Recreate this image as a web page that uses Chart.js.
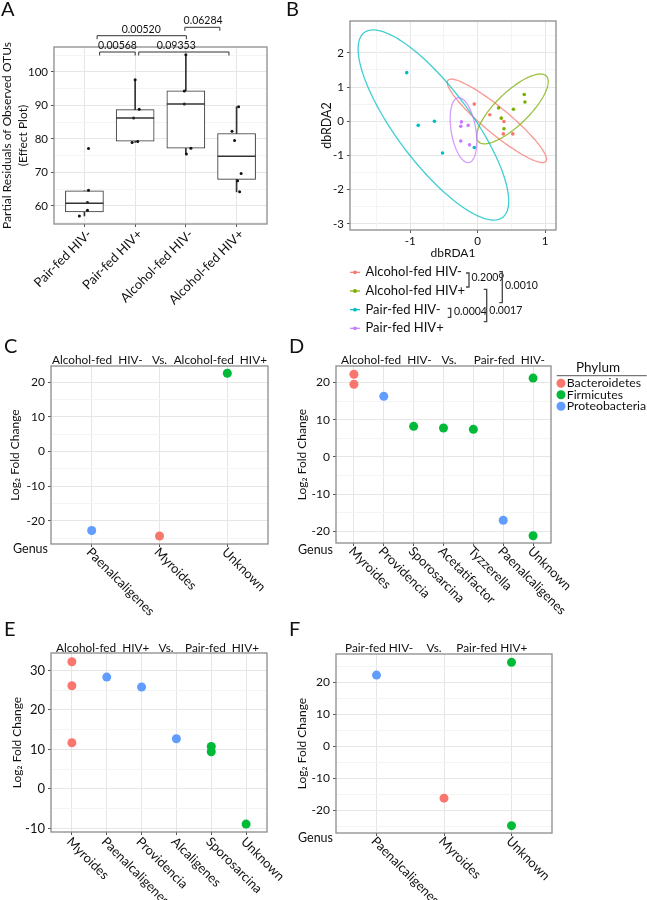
<!DOCTYPE html>
<html lang="en">
<head>
<meta charset="UTF-8">
<title>Microbiome panels</title>
<script src="https://cdn.jsdelivr.net/npm/chart.js"></script>
<style>
  body { margin: 0; background: #fff; }
  #wrap { position: relative; width: 647px; height: 900px; }
  #wrap canvas { position: absolute; left: 0; top: 0; }
</style>
</head>
<body>
<div id="wrap">
  <canvas id="chartA" width="647" height="900"></canvas>
  <canvas id="chartB" width="647" height="900"></canvas>
  <canvas id="chartC" width="647" height="900"></canvas>
  <canvas id="chartD" width="647" height="900"></canvas>
  <canvas id="chartE" width="647" height="900"></canvas>
  <canvas id="chartF" width="647" height="900"></canvas>
</div>
<script>
// ---- A: partial residuals of observed OTUs (box plot) ----
const aGroups = ['Pair-fed HIV-', 'Pair-fed HIV+', 'Alcohol-fed HIV-', 'Alcohol-fed HIV+'];
const aQ1 = [58.2, 79.3, 77.2, 67.9];
const aMedian = [60.8, 86.2, 90.4, 74.8];
const aQ3 = [64.5, 88.7, 94.3, 81.6];
const aLow = [57.0, 78.9, 75.5, 64.2];
const aHigh = [64.5, 97.6, 105.1, 89.6];
const aPtGroup = [0, 0, 0, 0, 0, 1, 1, 1, 1, 1, 2, 2, 2, 2, 2, 3, 3, 3, 3, 3, 3];
const aPtValue = [77.1, 64.7, 61.0, 58.7, 57.0, 97.6, 88.8, 86.2, 78.9, 79.2,
                  105.1, 94.3, 90.4, 77.2, 75.5, 89.6, 82.3, 79.5, 69.7, 67.5, 64.2];
const aPtJitter = [0.08, 0.08, 0.06, 0.06, -0.1, 0, 0.08, -0.03, -0.06, 0.05,
                   0, -0.03, -0.03, 0.1, 0.01, 0.04, -0.09, -0.04, 0.09, 0.02, 0.06];
const aYTicks = [60, 70, 80, 90, 100];
const aYMinor = [55, 65, 75, 85, 95, 105];
const aPvalues = ['0.00568', '0.00520', '0.09353', '0.06284'];

// ---- B: dbRDA ordination ----
const bGroups = ['Alcohol-fed HIV-', 'Alcohol-fed HIV+', 'Pair-fed HIV-', 'Pair-fed HIV+'];
const bPtGroup = [0, 0, 0, 0, 0, 1, 1, 1, 1, 1, 1, 2, 2, 2, 2, 2, 3, 3, 3, 3, 3];
const bPtX = [-0.05, 0.18, 0.39, 0.38, 0.52, 0.31, 0.35, 0.39, 0.53, 0.69, 0.70,
              -1.05, -0.88, -0.64, -0.52, -0.05, -0.24, -0.25, -0.14, -0.25, -0.12];
const bPtY = [0.50, 0.19, -0.01, -0.37, -0.37, 0.39, 0.09, -0.22, 0.35, 0.78, 0.56,
              1.42, -0.12, 0.0, -0.93, -0.77, -0.02, -0.15, -0.12, -0.58, -0.69];
// ellipse per group: centre, half extents, correlation
const bEllCx = [0.285, 0.515, -0.655, -0.21];
const bEllCy = [0.01, 0.36, -0.11, -0.26];
const bEllSx = [0.735, 0.53, 1.115, 0.197];
const bEllSy = [1.22, 1.02, 2.78, 0.95];
const bEllR = [-0.92, 0.78, -0.80, -0.35];
const bXTicks = [-1, 0, 1];
const bXMinor = [-1.5, -0.5, 0.5];
const bYTicks = [-3, -2, -1, 0, 1, 2];
const bYMinor = [-2.5, -1.5, -0.5, 0.5, 1.5, 2.5];
const bPvalues = ['0.2009', '0.0010', '0.0004', '0.0017'];

// ---- C-F: log2 fold change by genus ----
const phyla = ['Bacteroidetes', 'Firmicutes', 'Proteobacteria'];

const cGenus = ['Paenalcaligenes', 'Myroides', 'Unknown'];
const cPtGenus = ['Paenalcaligenes', 'Myroides', 'Unknown'];
const cLfc = [-22.8, -24.4, 22.6];
const cPhylum = ['Proteobacteria', 'Bacteroidetes', 'Firmicutes'];

const dGenus = ['Myroides', 'Providencia', 'Sporosarcina', 'Acetatifactor', 'Tyzzerella', 'Paenalcaligenes', 'Unknown'];
const dPtGenus = ['Myroides', 'Myroides', 'Providencia', 'Sporosarcina', 'Acetatifactor', 'Tyzzerella', 'Paenalcaligenes', 'Unknown', 'Unknown'];
const dLfc = [22.2, 19.5, 16.25, 8.2, 7.75, 7.4, -17.0, 21.15, -21.15];
const dPhylum = ['Bacteroidetes', 'Bacteroidetes', 'Proteobacteria', 'Firmicutes', 'Firmicutes', 'Firmicutes', 'Proteobacteria', 'Firmicutes', 'Firmicutes'];

const eGenus = ['Myroides', 'Paenalcaligenes', 'Providencia', 'Alcaligenes', 'Sporosarcina', 'Unknown'];
const ePtGenus = ['Myroides', 'Myroides', 'Myroides', 'Paenalcaligenes', 'Providencia', 'Alcaligenes', 'Sporosarcina', 'Sporosarcina', 'Unknown'];
const eLfc = [32.2, 26.1, 11.7, 28.3, 25.8, 12.7, 10.75, 9.4, -8.9];
const ePhylum = ['Bacteroidetes', 'Bacteroidetes', 'Bacteroidetes', 'Proteobacteria', 'Proteobacteria', 'Proteobacteria', 'Firmicutes', 'Firmicutes', 'Firmicutes'];

const fGenus = ['Paenalcaligenes', 'Myroides', 'Unknown'];
const fPtGenus = ['Paenalcaligenes', 'Myroides', 'Unknown', 'Unknown'];
const fLfc = [22.3, -16.2, 26.3, -24.8];
const fPhylum = ['Proteobacteria', 'Bacteroidetes', 'Firmicutes', 'Firmicutes'];

const lfcTicks20 = [-20, -10, 0, 10, 20];
const eYTicks = [-10, 0, 10, 20, 30];

// ---- styling ----
const FONT = 'Lato, "Open Sans", sans-serif';
const INK = '#111';
const GRID = '#e6e6e6';
const GRID_MINOR = '#f4f4f4';
const FRAME = '#8c8c8c';
const PHYLUM_COLORS = { Bacteroidetes: '#F8766D', Firmicutes: '#00BA38', Proteobacteria: '#619CFF' };
const GROUP_COLORS = ['#F8766D', '#7CAE00', '#00BFC4', '#C77CFF'];

function text(ctx, str, x, y, size, align) {
  ctx.save();
  ctx.font = size + 'px ' + FONT;
  ctx.fillStyle = INK;
  ctx.textAlign = align || 'left';
  ctx.textBaseline = 'middle';
  ctx.fillText(str, x, y);
  ctx.restore();
}

function frame(chart) {
  const a = chart.chartArea, ctx = chart.ctx;
  ctx.save();
  ctx.strokeStyle = FRAME;
  ctx.lineWidth = 1.3;
  ctx.strokeRect(a.left, a.top, a.right - a.left, a.bottom - a.top);
  ctx.restore();
}

function rotatedLabels(chart, labels, angle, dx, dy, size) {
  const ctx = chart.ctx, xs = chart.scales.x, bottom = chart.chartArea.bottom;
  ctx.save();
  ctx.font = size + 'px ' + FONT;
  ctx.fillStyle = INK;
  ctx.textBaseline = 'middle';
  ctx.textAlign = angle < 0 ? 'right' : 'left';
  labels.forEach((lab, i) => {
    ctx.save();
    ctx.translate(xs.getPixelForValue(i) + dx, bottom + dy);
    ctx.rotate(angle);
    ctx.fillText(lab, 0, 0);
    ctx.restore();
  });
  ctx.restore();
}

function panel(canvasId, rect, o) {
  const tSize = o.yTitleSize || 12, tLH = o.yTitleLH || 1.2;
  const half = tSize * tLH / 2;
  const padLeft = Math.max(0, o.yTitleX - half - 1);
  const titlePad = o.yTitleX - padLeft - half;
  const yWidth = rect.l - padLeft;
  const xHeight = o.xHeight || 8;
  const tickFont = { family: FONT, size: o.tickSize || 11.5 };
  const scales = {
    x: {
      type: 'linear', min: o.xMin, max: o.xMax, offset: false,
      afterBuildTicks: s => { s.ticks = o.xTicks.map(v => ({ value: v })); },
      afterFit: s => { s.height = xHeight; },
      grid: { color: GRID, tickColor: '#555', tickLength: 3, offset: false },
      border: { display: false },
      ticks: { display: !!o.xTickLabels, font: tickFont, color: INK, padding: 1, autoSkip: false, maxRotation: 0 },
      title: { display: !!o.xTitle, text: o.xTitle || '', color: INK,
               font: { family: FONT, size: 12 }, padding: { top: 0, bottom: 1 } }
    },
    y: {
      type: 'linear', min: o.yMin, max: o.yMax,
      afterBuildTicks: s => { s.ticks = o.yTicks.map(v => ({ value: v })); },
      afterFit: s => { s.width = yWidth; },
      grid: { color: GRID, tickColor: '#555', tickLength: 3 },
      border: { display: false },
      ticks: { font: tickFont, color: INK, padding: 3, autoSkip: false },
      title: { display: true, text: o.yTitle, color: INK,
               font: { family: FONT, size: tSize, lineHeight: tLH }, padding: { top: titlePad, bottom: 0 } }
    }
  };
  if (o.yMinor) {
    scales.yMinor = {
      axis: 'y', type: 'linear', position: 'left', min: o.yMin, max: o.yMax,
      afterBuildTicks: s => { s.ticks = o.yMinor.map(v => ({ value: v })); },
      afterFit: s => { s.width = 0; },
      grid: { color: GRID_MINOR, drawTicks: false }, border: { display: false },
      ticks: { display: false }
    };
  }
  if (o.xMinor) {
    scales.xMinor = {
      axis: 'x', type: 'linear', position: 'bottom', min: o.xMin, max: o.xMax,
      afterBuildTicks: s => { s.ticks = o.xMinor.map(v => ({ value: v })); },
      afterFit: s => { s.height = 0; },
      grid: { color: GRID_MINOR, drawTicks: false }, border: { display: false },
      ticks: { display: false }
    };
  }
  return new Chart(document.getElementById(canvasId), {
    type: 'scatter',
    data: { datasets: o.datasets },
    options: {
      responsive: false, animation: false, devicePixelRatio: 1,
      layout: { padding: { left: padLeft, top: rect.t, right: 647 - rect.r, bottom: 900 - rect.b - xHeight } },
      scales: scales,
      plugins: { legend: { display: false }, tooltip: { enabled: false } }
    },
    plugins: [{
      id: 'decor',
      beforeDatasetsDraw: chart => { if (o.under) o.under(chart); },
      afterDatasetsDraw: chart => { frame(chart); if (o.draw) o.draw(chart); }
    }]
  });
}

// ---- Panel A ----
panel('chartA', { l: 54, t: 47, r: 267, b: 224 }, {
  xMin: -0.6, xMax: 3.6, xTicks: [0, 1, 2, 3],
  yMin: 54.6, yMax: 107.4, yTicks: aYTicks, yMinor: aYMinor,
  yTitle: ['Partial Residuals of Observed OTUs', '(Effect Plot)'], yTitleX: 7, yTitleSize: 12, yTitleLH: 1.34,
  datasets: [
    { type: 'bar', data: aGroups.map((g, i) => ({ x: i, y: [aQ1[i], aQ3[i]] })),
      backgroundColor: '#ffffff', borderColor: '#333', borderWidth: 1, borderSkipped: false,
      barThickness: 38, grouped: false, order: 3 },
    { type: 'bar', data: aGroups.map((g, i) => ({ x: i, y: [aQ3[i], aHigh[i]] })),
      backgroundColor: '#333', borderWidth: 0, barThickness: 1, grouped: false, order: 4 },
    { type: 'bar', data: aGroups.map((g, i) => ({ x: i, y: [aLow[i], aQ1[i]] })),
      backgroundColor: '#333', borderWidth: 0, barThickness: 1, grouped: false, order: 4 },
    { type: 'scatter', data: aPtValue.map((v, k) => ({ x: aPtGroup[k] + aPtJitter[k], y: v })),
      pointRadius: 1.5, backgroundColor: '#111', borderWidth: 0, order: 1 }
  ],
  draw: chart => {
    const ctx = chart.ctx, xs = chart.scales.x, ys = chart.scales.y;
    const boxes = chart.getDatasetMeta(0).data;
    ctx.save();
    ctx.strokeStyle = '#333';
    ctx.lineWidth = 1.4;
    aMedian.forEach((m, i) => {
      const cx = xs.getPixelForValue(i), w = boxes[i].width / 2, y = ys.getPixelForValue(m);
      ctx.beginPath(); ctx.moveTo(cx - w, y); ctx.lineTo(cx + w, y); ctx.stroke();
    });
    // significance brackets: [from, to, line y, label centre x, label y]
    const spans = [[0.3, 1.0, 52, 0.65, 45.5], [0.25, 2.01, 35.7, 1.12, 30],
                   [1.07, 2.85, 52, 1.81, 45.5], [1.98, 2.67, 27.3, 2.34, 20.5]];
    ctx.lineWidth = 1;
    spans.forEach((s, k) => {
      const x1 = xs.getPixelForValue(s[0]), x2 = xs.getPixelForValue(s[1]);
      ctx.beginPath();
      ctx.moveTo(x1, s[2] + 3.5); ctx.lineTo(x1, s[2]); ctx.lineTo(x2, s[2]); ctx.lineTo(x2, s[2] + 3.5);
      ctx.stroke();
      text(ctx, aPvalues[k], xs.getPixelForValue(s[3]), s[4], 10.5, 'center');
    });
    ctx.restore();
    rotatedLabels(chart, aGroups, -Math.PI / 4, 5, 8, 13);
    text(ctx, 'A', 1, 10, 20);
  }
});

// ---- Panel B ----
panel('chartB', { l: 350, t: 21, r: 556, b: 230 }, {
  xMin: -1.89, xMax: 1.16, xTicks: bXTicks, xMinor: bXMinor, xTickLabels: true, xTitle: 'dbRDA1', xHeight: 31,
  yMin: -3.18, yMax: 2.93, yTicks: bYTicks, yMinor: bYMinor,
  yTitle: 'dbRDA2', yTitleX: 327, yTitleSize: 12.5,
  datasets: bGroups.map((g, gi) => ({
    label: g,
    data: bPtX.map((x, k) => ({ x: x, y: bPtY[k], g: bPtGroup[k] })).filter(d => d.g === gi),
    pointRadius: 1.8, backgroundColor: GROUP_COLORS[gi], borderWidth: 0
  })),
  under: chart => {
    const ctx = chart.ctx, xs = chart.scales.x, ys = chart.scales.y;
    ctx.save();
    ctx.lineWidth = 1.3;
    bGroups.forEach((g, gi) => {
      const k = Math.sqrt(1 - bEllR[gi] * bEllR[gi]);
      ctx.strokeStyle = GROUP_COLORS[gi];
      ctx.globalAlpha = 0.75;
      ctx.beginPath();
      for (let s = 0; s <= 120; s++) {
        const t = s / 120 * Math.PI * 2;
        const px = xs.getPixelForValue(bEllCx[gi] + bEllSx[gi] * Math.cos(t));
        const py = ys.getPixelForValue(bEllCy[gi] + bEllSy[gi] * (bEllR[gi] * Math.cos(t) + k * Math.sin(t)));
        if (s === 0) ctx.moveTo(px, py); else ctx.lineTo(px, py);
      }
      ctx.stroke();
    });
    ctx.restore();
  },
  draw: chart => {
    const ctx = chart.ctx;
    text(ctx, 'B', 286, 10, 20);
    const rows = [272.3, 291, 309.7, 328.3];
    bGroups.forEach((g, gi) => {
      ctx.save();
      ctx.strokeStyle = GROUP_COLORS[gi];
      ctx.fillStyle = GROUP_COLORS[gi];
      ctx.lineWidth = 1.2;
      ctx.beginPath(); ctx.moveTo(350, rows[gi]); ctx.lineTo(360, rows[gi]); ctx.stroke();
      ctx.beginPath(); ctx.arc(355, rows[gi], 1.9, 0, Math.PI * 2); ctx.fill();
      ctx.restore();
      text(ctx, g, 365.5, rows[gi], 13);
    });
    // pairwise test brackets: [x, y1, y2, label x, label y]
    const br = [[469, 273, 287, 471.5, 277.5], [502.3, 271.7, 302.7, 505, 286],
                [450.7, 308.3, 317.3, 454, 311.7], [486.7, 289.3, 321.7, 489.3, 310.7]];
    ctx.save();
    ctx.strokeStyle = '#444';
    ctx.lineWidth = 1.3;
    br.forEach((b, k) => {
      ctx.beginPath();
      ctx.moveTo(b[0] - 3, b[1]); ctx.lineTo(b[0], b[1]); ctx.lineTo(b[0], b[2]); ctx.lineTo(b[0] - 3, b[2]);
      ctx.stroke();
      text(ctx, bPvalues[k], b[3], b[4], 10.5);
    });
    ctx.restore();
  }
});

// ---- Panels C-F ----
function foldDatasets(genusList, ptGenus, lfc, phylum) {
  return phyla.map(p => ({
    label: p,
    data: lfc.map((v, k) => ({ x: genusList.indexOf(ptGenus[k]), y: v, p: phylum[k] })).filter(d => d.p === p),
    pointRadius: 4.5, backgroundColor: PHYLUM_COLORS[p], borderWidth: 0
  }));
}

function foldPanel(id, rect, genus, datasets, yr, titleParts, extra) {
  panel(id, rect, {
    xMin: -0.6, xMax: genus.length - 0.4, xTicks: genus.map((g, i) => i),
    yMin: yr.min, yMax: yr.max, yTicks: yr.ticks, yMinor: yr.minor, tickSize: yr.tickSize || 12,
    yTitle: 'Log₂ Fold Change', yTitleX: yr.titleX, yTitleSize: 12,
    datasets: datasets,
    draw: chart => {
      const ctx = chart.ctx;
      titleParts.forEach(t => text(ctx, t[0], t[1], t[2], 11.8, t[3]));
      rotatedLabels(chart, genus, Math.PI / 4, -3, yr.labelDy, 13);
      text(ctx, extra.letter[0], extra.letter[1], extra.letter[2], 20);
      if (extra.genusAt) text(ctx, 'Genus', extra.genusAt[0], extra.genusAt[1], 12.5, 'right');
      if (extra.legend) extra.legend(ctx);
    }
  });
}

foldPanel('chartC', { l: 51, t: 366, r: 268, b: 544 }, cGenus, foldDatasets(cGenus, cPtGenus, cLfc, cPhylum),
  { min: -26.7, max: 24.7, ticks: lfcTicks20, minor: [-25, -15, -5, 5, 15], titleX: 15.5, labelDy: 6 },
  [['Alcohol-fed  HIV-', 52, 360, 'left'], ['Vs.', 159.5, 360, 'center'], ['Alcohol-fed  HIV+', 267, 360, 'right']],
  { letter: ['C', 4, 347], genusAt: [48, 549.3] });

foldPanel('chartD', { l: 336, t: 366, r: 551, b: 543 }, dGenus, foldDatasets(dGenus, dPtGenus, dLfc, dPhylum),
  { min: -23.1, max: 24.4, ticks: lfcTicks20, minor: [-15, -5, 5, 15], titleX: 302, labelDy: 6 },
  [['Alcohol-fed  HIV-', 341, 360, 'left'], ['Vs.', 449, 360, 'center'], ['Pair-fed  HIV-', 545, 360, 'right']],
  { letter: ['D', 289, 347], genusAt: [333, 550],
    legend: ctx => {
      text(ctx, 'Phylum', 598, 368, 13.5, 'center');
      ctx.save();
      ctx.strokeStyle = '#555'; ctx.lineWidth = 1;
      ctx.beginPath(); ctx.moveTo(556.7, 375.7); ctx.lineTo(646.7, 375.7); ctx.stroke();
      const ys = [383.3, 394.8, 406.3];
      phyla.forEach((p, i) => {
        ctx.fillStyle = PHYLUM_COLORS[p];
        ctx.beginPath(); ctx.arc(561, ys[i], 4.5, 0, Math.PI * 2); ctx.fill();
        text(ctx, p, 566.7, ys[i], 12.3);
      });
      ctx.restore();
    } });

foldPanel('chartE', { l: 51, t: 653, r: 267, b: 832 }, eGenus, foldDatasets(eGenus, ePtGenus, eLfc, ePhylum),
  { min: -10.9, max: 34.4, ticks: eYTicks, minor: [-5, 5, 15, 25], titleX: 17.5, labelDy: 7.5, tickSize: 13 },
  [['Alcohol-fed  HIV+', 56, 647.7, 'left'], ['Vs.', 166, 647.7, 'center'], ['Pair-fed  HIV+', 259, 647.7, 'right']],
  { letter: ['E', 4, 630] });

foldPanel('chartF', { l: 336, t: 654, r: 552, b: 833 }, fGenus, foldDatasets(fGenus, fPtGenus, fLfc, fPhylum),
  { min: -27.1, max: 28.9, ticks: lfcTicks20, minor: [-25, -15, -5, 5, 15, 25], titleX: 302, labelDy: 6 },
  [['Pair-fed HIV-', 345, 647.7, 'left'], ['Vs.', 434, 647.7, 'center'], ['Pair-fed HIV+', 527.3, 647.7, 'right']],
  { letter: ['F', 289, 630], genusAt: [333, 838.3] });
</script>
</body>
</html>
